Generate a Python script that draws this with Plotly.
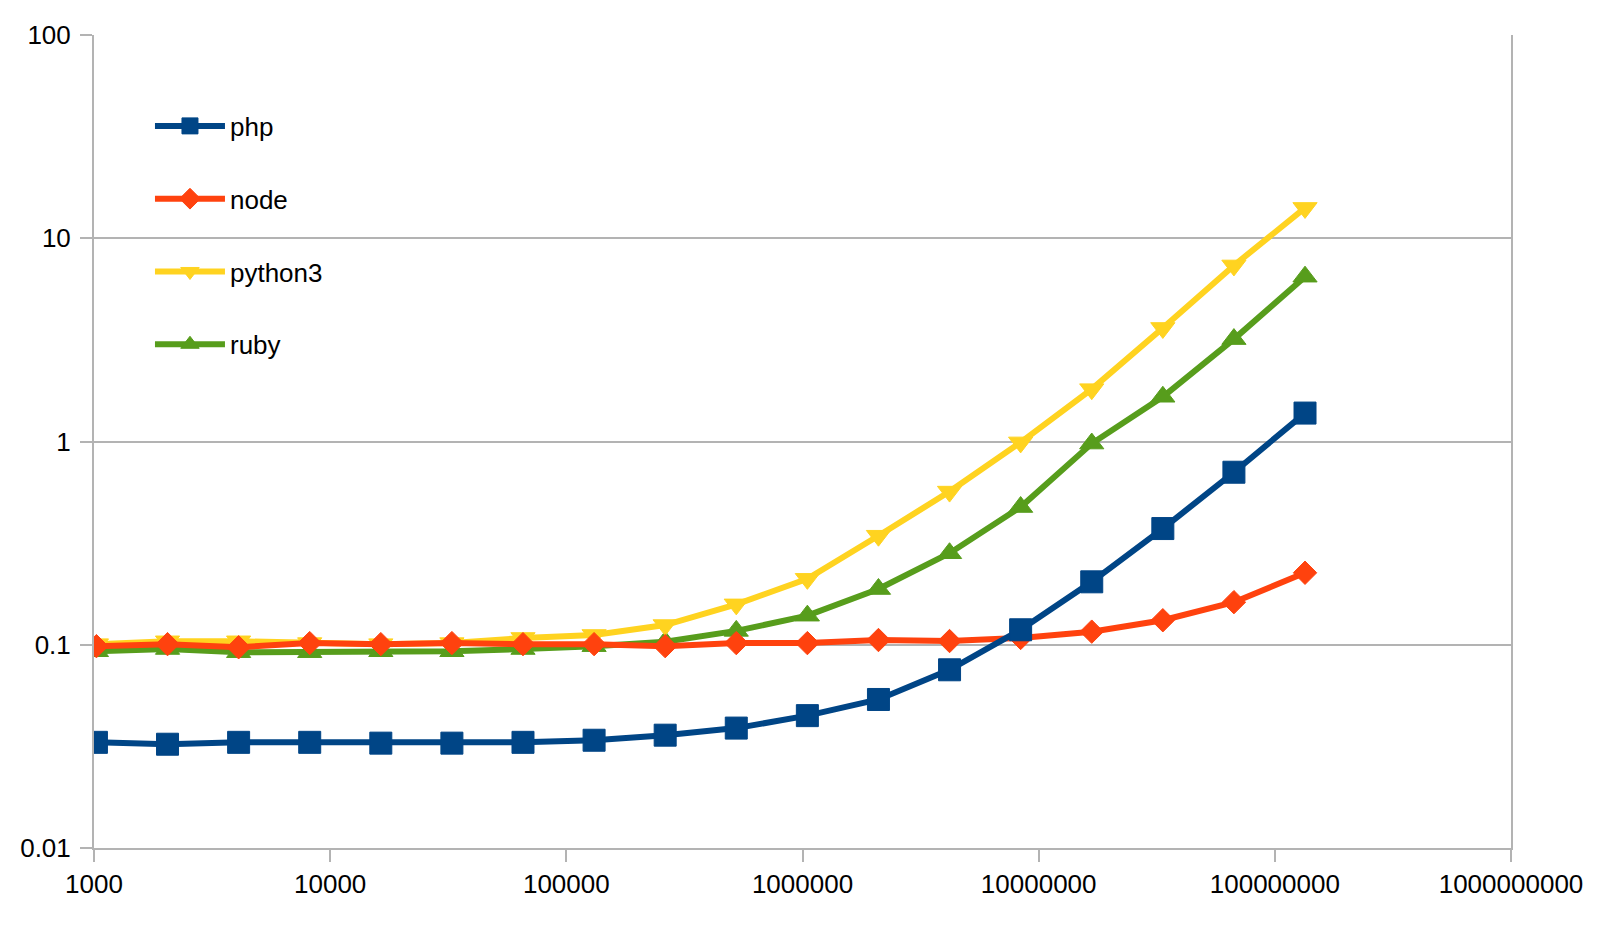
import plotly.graph_objects as go

sizes = [1024 * 2 ** k for k in range(18)]

php = [0.0331, 0.0324, 0.0331, 0.0331, 0.0328, 0.0328, 0.0331, 0.0339, 0.0359, 0.0389,
       0.0448, 0.0538, 0.0753, 0.1185, 0.204, 0.373, 0.706, 1.38]
node = [0.0984, 0.1007, 0.0972, 0.1019, 0.1007, 0.1019, 0.1007, 0.1007, 0.0984, 0.1019,
        0.1019, 0.1055, 0.1043, 0.108, 0.116, 0.132, 0.162, 0.226]
python3 = [0.1007, 0.104, 0.104, 0.1019, 0.1007, 0.1019, 0.108, 0.1117, 0.125, 0.158,
           0.211, 0.344, 0.567, 0.99, 1.81, 3.62, 7.35, 14.1]
ruby = [0.0929, 0.0953, 0.0919, 0.0919, 0.0929, 0.0929, 0.0953, 0.0984, 0.1034, 0.117,
        0.139, 0.188, 0.282, 0.476, 0.977, 1.66, 3.19, 6.47]

xtick_vals = [1e3, 1e4, 1e5, 1e6, 1e7, 1e8, 1e9]
xtick_text = ["1000", "10000", "100000", "1000000", "10000000", "100000000", "1000000000"]
ytick_vals = [0.01, 0.1, 1, 10, 100]
ytick_text = ["0.01", "0.1", "1", "10", "100"]

series = [
    ("ruby", ruby, "#579d1c", "triangle-up", 21, 4),
    ("python3", python3, "#ffd320", "triangle-down", 21, 3),
    ("node", node, "#ff420e", "diamond", 18, 2),
    ("php", php, "#004586", "square", 22, 1),
]

fig = go.Figure()
for name, vals, color, sym, msize, rank in series:
    fig.add_trace(go.Scatter(
        x=sizes, y=vals, name=name, mode="lines+markers",
        line=dict(color=color, width=6),
        marker=dict(symbol=sym, size=msize, color=color,
                    line=dict(color=color, width=1)),
        legendgroup=name, legendrank=rank,
    ))

grid = "#b3b3b3"
fig.update_layout(
    width=1610, height=934,
    margin=dict(l=82, r=107, t=24, b=94),
    paper_bgcolor="white", plot_bgcolor="white",
    font=dict(family="Liberation Sans, Arial, sans-serif", size=26, color="black"),
    showlegend=True,
    legend=dict(
        x=0.0395, y=0.917, xanchor="left", yanchor="top",
        bgcolor="rgba(0,0,0,0)", borderwidth=0,
        traceorder="grouped", tracegroupgap=36,
        itemwidth=70,
        font=dict(size=26, color="black"),
    ),
    xaxis=dict(
        type="log", range=[3, 9],
        tickvals=xtick_vals, ticktext=xtick_text,
        showgrid=False, zeroline=False,
        showline=True, linecolor=grid, linewidth=2,
        ticks="outside", ticklen=12, tickwidth=2, tickcolor=grid,
        ticklabelstandoff=0,
    ),
    yaxis=dict(
        type="log", range=[-2, 2],
        tickvals=ytick_vals, ticktext=ytick_text,
        showgrid=True, gridcolor=grid, gridwidth=2, zeroline=False,
        showline=True, linecolor=grid, linewidth=2, mirror=True,
        ticks="outside", ticklen=12, tickwidth=2, tickcolor=grid,
        ticklabelstandoff=4,
    ),
)

fig.write_html("out.html")
